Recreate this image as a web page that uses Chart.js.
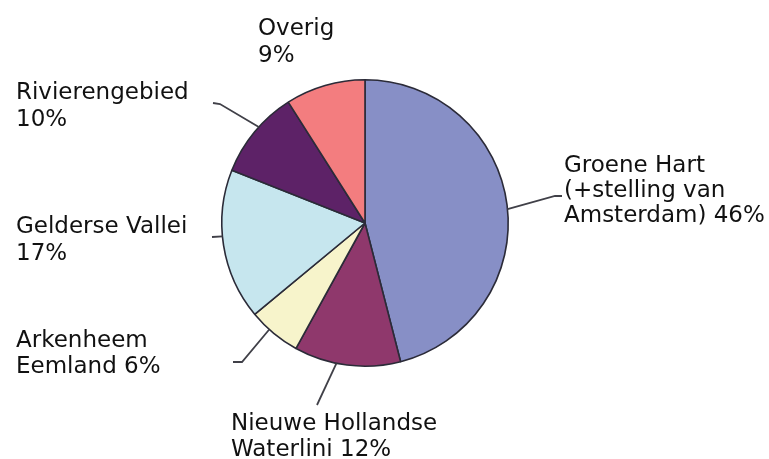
<!DOCTYPE html>
<html>
<head>
<meta charset="utf-8">
<script src="https://cdn.jsdelivr.net/npm/chart.js@4"></script>
<style>
  html, body { margin: 0; padding: 0; background: #ffffff; }
  #wrap { width: 769px; height: 459px; position: relative; }
</style>
</head>
<body>
<div id="wrap"><canvas id="c" width="769" height="459"></canvas></div>
<script>
// ---- data ----
const categories = [
  "Groene Hart (+stelling van Amsterdam)",
  "Nieuwe Hollandse Waterlini",
  "Arkenheem Eemland",
  "Gelderse Vallei",
  "Rivierengebied",
  "Overig"
];
const shares = [46, 12, 6, 17, 10, 9];
const labelLines = [
  ["Groene Hart", "(+stelling van", "Amsterdam) 46%"],
  ["Nieuwe Hollandse", "Waterlini 12%"],
  ["Arkenheem", "Eemland 6%"],
  ["Gelderse Vallei", "17%"],
  ["Rivierengebied", "10%"],
  ["Overig", "9%"]
];
const colors = ["#878fc6", "#8f386c", "#f7f4cb", "#c6e6ee", "#5d2267", "#f37d7f"];

// ---- label layout (positions only) ----
const labelLayout = [
  { x: 564, y: 172, pitch: 25, frac: 0.51, elbow: [[555, 196], [562, 196]] },
  { x: 231, y: 430, pitch: 26, frac: 0.60, elbow: [[317, 405]] },
  { x: 16,  y: 347, pitch: 26, frac: 0.61, elbow: [[242, 362], [233, 362]] },
  { x: 16,  y: 233, pitch: 27, frac: 0.56, elbow: [[212, 237]] },
  { x: 16,  y: 99,  pitch: 27, frac: 0.57, elbow: [[220, 104], [213, 103]] },
  { x: 258, y: 35,  pitch: 27, frac: 0.5,  elbow: null }
];

const labelPlugin = {
  id: 'pieLabels',
  afterDatasetsDraw(chart) {
    const ctx = chart.ctx;
    const meta = chart.getDatasetMeta(0);
    ctx.save();
    meta.data.forEach((arc, i) => {
      const lay = labelLayout[i];
      if (lay.elbow) {
        const a = arc.startAngle + (arc.endAngle - arc.startAngle) * lay.frac;
        const sx = arc.x + Math.cos(a) * arc.outerRadius;
        const sy = arc.y + Math.sin(a) * arc.outerRadius;
        ctx.beginPath();
        ctx.strokeStyle = '#404048';
        ctx.lineWidth = 1.8;
        ctx.moveTo(sx, sy);
        lay.elbow.forEach(p => ctx.lineTo(p[0], p[1]));
        ctx.stroke();
      }
      ctx.fillStyle = '#111111';
      ctx.font = '23px "DejaVu Sans"';
      ctx.textBaseline = 'alphabetic';
      ctx.textAlign = 'left';
      labelLines[i].forEach((t, k) => ctx.fillText(t, lay.x, lay.y + k * lay.pitch));
    });
    ctx.restore();
  }
};

new Chart(document.getElementById('c'), {
  type: 'pie',
  data: {
    labels: categories,
    datasets: [{
      data: shares,
      backgroundColor: colors,
      borderColor: '#2b2b38',
      borderWidth: 1.6,
      borderAlign: 'center'
    }]
  },
  options: {
    responsive: false,
    animation: false,
    layout: { padding: { left: 221, right: 260, top: 79, bottom: 92 } },
    plugins: {
      legend: { display: false },
      tooltip: { enabled: false },
      title: { display: false }
    }
  },
  plugins: [labelPlugin]
});
</script>
</body>
</html>
